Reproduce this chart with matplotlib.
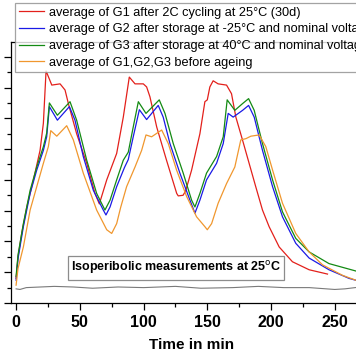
import matplotlib
matplotlib.use("Agg")
import matplotlib.pyplot as plt
from matplotlib.ticker import MultipleLocator

plt.rcParams['font.family'] = ['Liberation Sans', 'DejaVu Sans']

# heat flow curves (time in min, value)
t_g1 = [0, 1.5, 4.4, 8.4, 13.6, 18.8, 21.4, 23.5, 28, 34.5, 38.4, 41, 47.5, 55.4, 61.9, 65.3,
        71.1, 78.9, 84.1, 88.8, 93.3, 99.8, 102.4, 105, 110.3, 118, 126, 127.2, 131, 133,
        137.7, 144.2, 148.1, 150, 152, 154.6, 158.5, 165.1, 169, 172.4, 177.6, 182.8, 188,
        193.3, 198.5, 206.4, 216.8, 229.9, 244.3]
v_g1 = [4.0, 7.5, 11.3, 15.6, 20.0, 24.8, 29.2, 37.7, 35.4, 35.6, 34.6, 32.4, 27.5, 22.7, 17.8, 16.1,
        20.0, 24.3, 30.2, 36.7, 35.6, 35.6, 35.1, 33.5, 28.6, 23.2, 17.8, 17.4, 17.5, 18.2,
        21.6, 27.5, 32.7, 33.0, 35.1, 36.1, 35.6, 35.4, 34.0, 30.2, 26.5, 22.7, 18.9,
        15.1, 12.4, 9.1, 6.7, 5.4, 4.7]

t_g2 = [0, 1.5, 5.7, 11, 16.2, 21.4, 24, 26.1, 32.4, 41.8, 46.2, 52.7, 60.6, 68.4, 70.5, 73.7,
        78.9, 85, 88, 91.9, 96.7, 102.4, 111.5, 115.4, 120.7, 128.5, 136.4, 140.3, 144.2,
        149.4, 157.3, 162.5, 166.4, 170.3, 177.7, 182.4, 186.8, 193.3, 201.2, 209, 219.4,
        229.9, 245.5, 261.2, 270]
v_g2 = [3.7, 7.2, 12.4, 17.8, 21.6, 24.8, 27.0, 31.9, 29.7, 31.9, 29.7, 23.8, 18.3, 15.1, 14.3, 15.6,
        18.9, 22.0, 23.3, 27.0, 31.4, 29.8, 32.1, 30.2, 25.9, 21.1, 16.7, 14.6, 16.7,
        20.0, 22.7, 25.9, 30.8, 30.2, 31.3, 32.1, 30.2, 24.8, 18.9, 14.0, 9.7,
        7.3, 5.4, 4.0, 3.5]

t_g3 = [0, 1.5, 5.7, 11, 16.2, 21.4, 24, 26.1, 32.4, 42.3, 47.5, 55.4, 63.2, 69.7, 73.7, 78.9,
        84.1, 88, 91.9, 95.9, 101.9, 112.3, 116.8, 123.3, 131.1, 137.7, 140.3, 144.2, 149.4,
        157.3, 162.5, 165.6, 171.6, 177.7, 182.4, 186.8, 193.3, 201.2, 209, 219.4, 229.9,
        245.5, 266.5, 270]
v_g3 = [4.3, 7.8, 12.9, 18.3, 22.1, 25.4, 27.6, 32.5, 30.5, 32.7, 29.7, 23.2, 17.8, 15.1, 16.7, 20.0,
        23.2, 24.5, 28.6, 32.7, 30.8, 33.0, 30.8, 25.9, 21.1, 16.7, 15.6, 17.8, 21.1,
        23.8, 27.0, 33.0, 31.3, 32.4, 33.2, 31.3, 25.9, 20.0, 14.8, 10.5, 8.3,
        6.4, 5.2, 5.0]

t_new = [0, 1.5, 5.7, 11, 16.2, 21.4, 25.3, 27.2, 31.9, 39.7, 44.9, 52.7, 63.2, 71.1, 75, 78.9,
         82, 86.7, 93.3, 98.5, 101.9, 106.3, 114.2, 119.4, 125.9, 133.8, 141.6, 148.1, 150,
         153.4, 158.5, 165.1, 171.6, 176.3, 180.3, 184.2, 190.7, 195.9, 201.2, 209, 219.4,
         229.9, 240.4, 256, 266.5, 270]
v_new = [2.9, 5.6, 9.1, 15.1, 18.9, 22.7, 25.4, 28.0, 27.1, 28.8, 26.5, 21.1, 15.1, 11.9, 11.3, 12.9,
         15.5, 18.9, 22.1, 24.8, 27.3, 27.0, 28.1, 25.9, 21.6, 17.3, 14.0, 12.4, 11.9,
         12.9, 16.2, 19.4, 22.1, 26.5, 26.7, 27.1, 27.3, 25.4, 21.6, 16.2, 11.3,
         8.3, 6.2, 4.5, 3.7, 3.5]

t_base = [0, 3, 8, 30, 45, 60, 80, 100, 125, 145, 170, 190, 210, 230, 250, 258, 270]
v_base = [2.3, 2.2, 2.5, 2.7, 2.6, 2.4, 2.6, 2.5, 2.7, 2.4, 2.5, 2.7, 2.5, 2.5, 2.2, 2.3, 2.6]

labels = [
    "average of G1 after 2C cycling at 25°C (30d)",
    "average of G2 after storage at -25°C and nominal voltage",
    "average of G3 after storage at 40°C and nominal voltage",
    "average of G1,G2,G3 before ageing",
]
colors = ['#e3201b', '#1a1ae6', '#138a13', '#f0972e']

fig = plt.figure(figsize=(3.56, 3.64), dpi=100)
ax = fig.add_axes([11 / 356, 1 - 303 / 364, 362 / 356, 261 / 364])

lw = 0.9
ax.plot(t_g1, v_g1, color=colors[0], lw=lw, label=labels[0])
ax.plot(t_g2, v_g2, color=colors[1], lw=lw, label=labels[1])
ax.plot(t_g3, v_g3, color=colors[2], lw=lw, label=labels[2])
ax.plot(t_new, v_new, color=colors[3], lw=lw, label=labels[3])
ax.plot(t_base, v_base, color='#7a7a7a', lw=0.8)

ax.set_xlim(-4, 280)
ax.set_ylim(0, 42.4)
ax.xaxis.set_major_locator(MultipleLocator(50))
ax.xaxis.set_minor_locator(MultipleLocator(25))
ax.yaxis.set_major_locator(MultipleLocator(5))
ax.yaxis.set_minor_locator(MultipleLocator(2.5))
ax.tick_params(which='major', direction='out', length=5, width=0.9, labelsize=11.5)
ax.tick_params(which='minor', direction='out', length=3, width=0.9)
for lab in ax.get_xticklabels() + ax.get_yticklabels():
    lab.set_fontweight('bold')
for sp in ax.spines.values():
    sp.set_linewidth(0.9)

ax.set_xlabel("Time in min", fontsize=11, fontweight='bold', labelpad=6)

# text box placed in pixel coordinates (origin bottom-left)
ax.text(176, 364 - 268, "Isoperibolic measurements at 25$^{\\rm o}$C",
        transform=None, fontsize=9, fontweight='bold', ha='center', va='center',
        bbox=dict(boxstyle='square,pad=0.25', fc='white', ec='#8c8c8c', lw=0.9))

leg = fig.legend(loc='upper left', bbox_to_anchor=(15 / 356, 1 - 3 / 364),
                 fontsize=9.15, frameon=True, fancybox=False, edgecolor='#8c8c8c',
                 handlelength=1.95, handletextpad=0.4, labelspacing=0.36,
                 borderpad=0.3, borderaxespad=0)
leg.get_frame().set_linewidth(0.9)

fig.savefig("out.png", dpi=100)
